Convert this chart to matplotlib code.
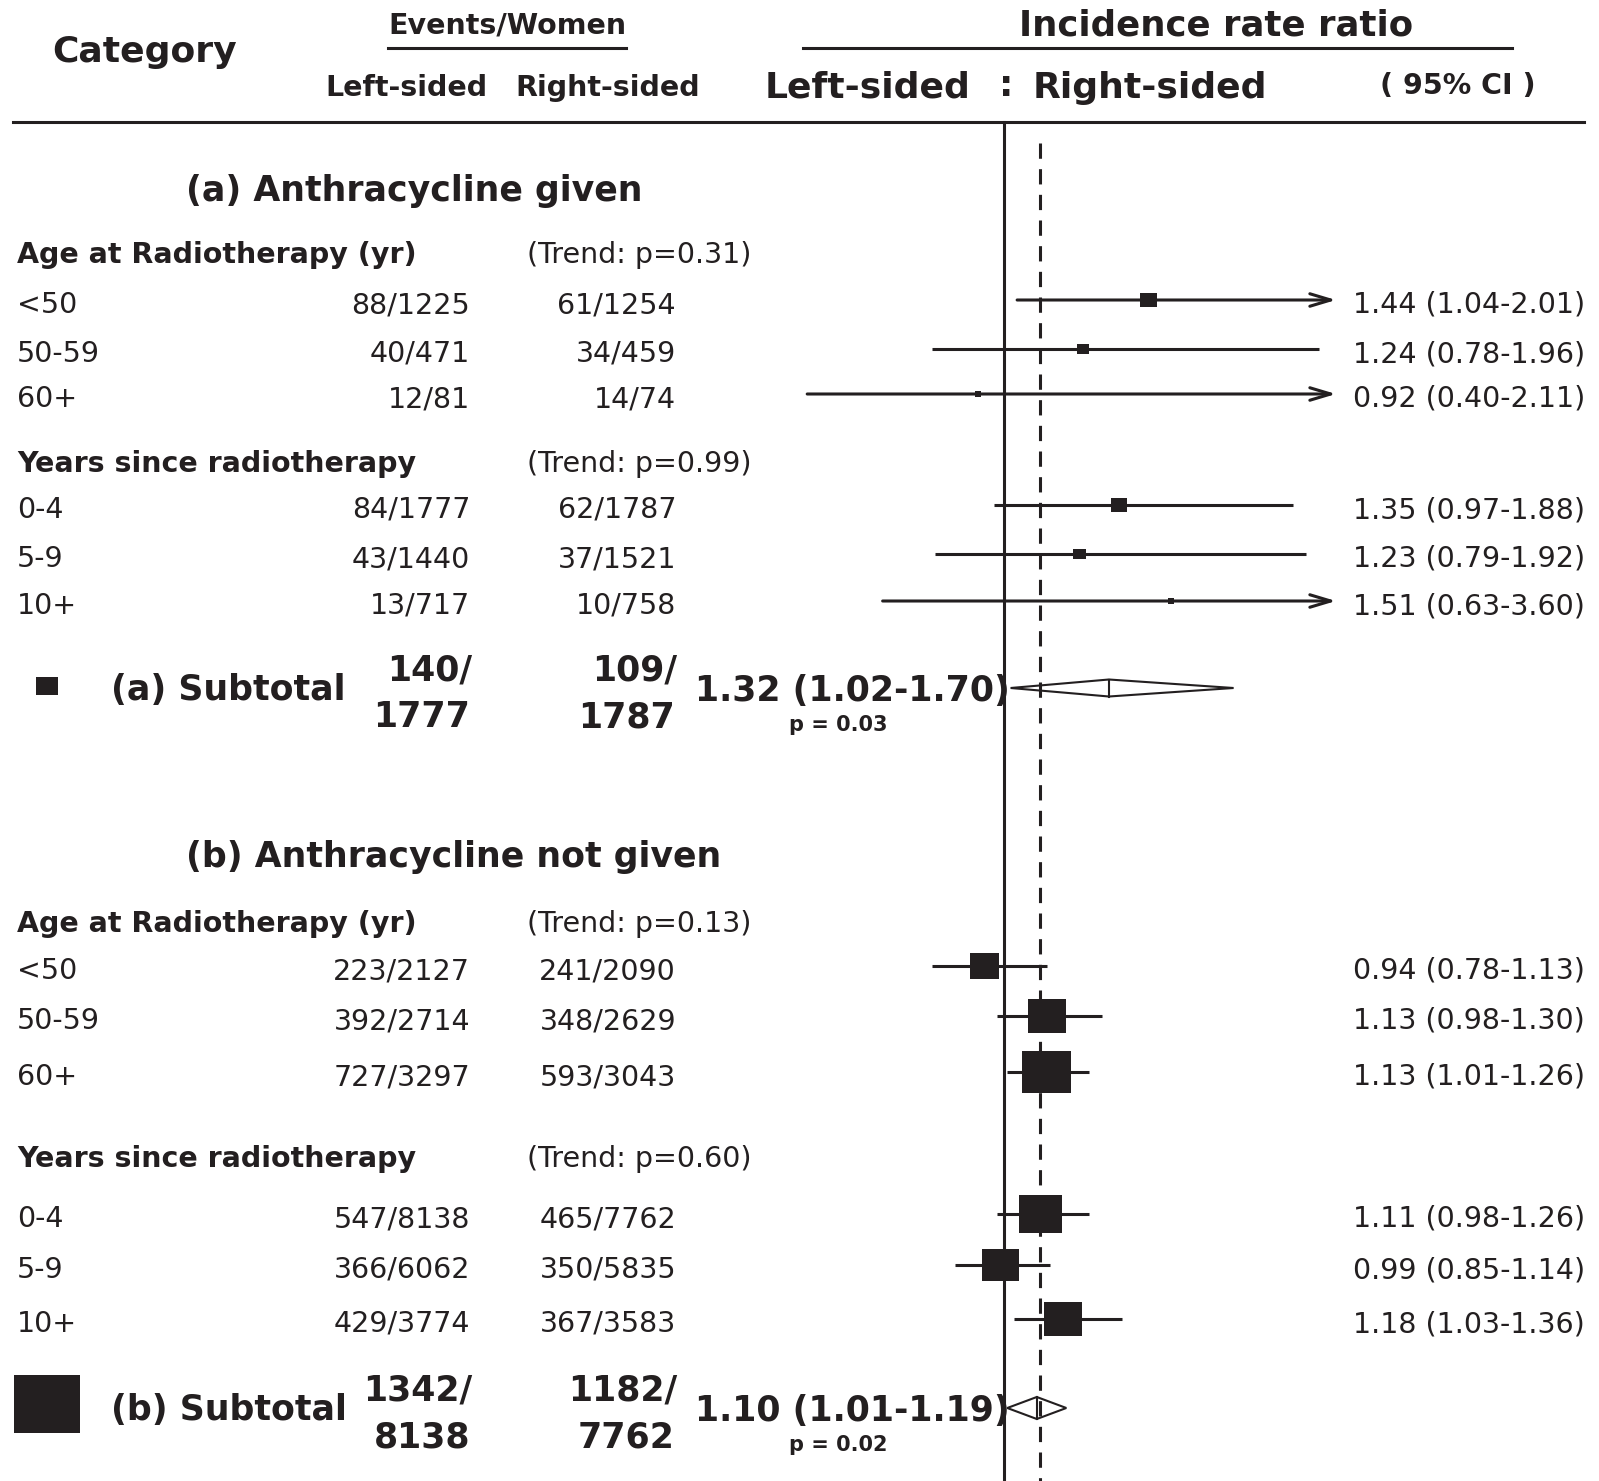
import numpy as np
import matplotlib
matplotlib.use('Agg')
import matplotlib.pyplot as plt
from matplotlib.patches import Rectangle, Polygon

plt.rcParams['font.family'] = ['DejaVu Sans']

# ---------------- data ----------------
age_labels = ['<50', '50-59', '60+']
yrs_labels = ['0-4', '5-9', '10+']

# (a) Anthracycline given
a_age_ev_l = [88, 40, 12]
a_age_n_l = [1225, 471, 81]
a_age_ev_r = [61, 34, 14]
a_age_n_r = [1254, 459, 74]
a_age_irr = [1.44, 1.24, 0.92]
a_age_lo = [1.04, 0.78, 0.40]
a_age_hi = [2.01, 1.96, 2.11]

a_yrs_ev_l = [84, 43, 13]
a_yrs_n_l = [1777, 1440, 717]
a_yrs_ev_r = [62, 37, 10]
a_yrs_n_r = [1787, 1521, 758]
a_yrs_irr = [1.35, 1.23, 1.51]
a_yrs_lo = [0.97, 0.79, 0.63]
a_yrs_hi = [1.88, 1.92, 3.60]

a_trend_p = [0.31, 0.99]
a_sub_left = [140, 1777]
a_sub_right = [109, 1787]
a_sub_est = [1.32, 1.02, 1.70]
a_sub_p = 0.03

# (b) Anthracycline not given
b_age_ev_l = [223, 392, 727]
b_age_n_l = [2127, 2714, 3297]
b_age_ev_r = [241, 348, 593]
b_age_n_r = [2090, 2629, 3043]
b_age_irr = [0.94, 1.13, 1.13]
b_age_lo = [0.78, 0.98, 1.01]
b_age_hi = [1.13, 1.30, 1.26]

b_yrs_ev_l = [547, 366, 429]
b_yrs_n_l = [8138, 6062, 3774]
b_yrs_ev_r = [465, 350, 367]
b_yrs_n_r = [7762, 5835, 3583]
b_yrs_irr = [1.11, 0.99, 1.18]
b_yrs_lo = [0.98, 0.85, 1.03]
b_yrs_hi = [1.26, 1.14, 1.36]

b_trend_p = [0.13, 0.60]
b_sub_left = [1342, 8138]
b_sub_right = [1182, 7762]
b_sub_est = [1.10, 1.01, 1.19]
b_sub_p = 0.02

overall_irr = 1.11
clip_hi = 2.0

# ---------------- layout ----------------
W, H = 1599, 1481
INK = '#231f20'
X0 = 1.0 - 1004 / 328
X1 = 1.0 + (W - 1004) / 328
PX = (X1 - X0) / W


def xd(px):
    return X0 + px * PX


fig = plt.figure(figsize=(W / 100, H / 100), dpi=100)
ax = fig.add_axes([0, 0, 1, 1])
ax.set_xlim(X0, X1)
ax.set_ylim(H, 0)
ax.axis('off')

FS = 20.5
FS_BIG = 25
FS_HEAD = 20.5
LW = 2.2

# header
ax.text(xd(145), 52, 'Category', ha='center', va='center', fontsize=26, fontweight='bold', color=INK)
ax.text(xd(507), 26, 'Events/Women', ha='center', va='center', fontsize=FS_HEAD, fontweight='bold', color=INK)
ax.plot([xd(388), xd(626)], [48, 48], color=INK, lw=LW)
ax.text(xd(406), 88, 'Left-sided', ha='center', va='center', fontsize=FS_HEAD, fontweight='bold', color=INK)
ax.text(xd(608), 88, 'Right-sided', ha='center', va='center', fontsize=FS_HEAD, fontweight='bold', color=INK)
ax.text(xd(1216), 26, 'Incidence rate ratio', ha='center', va='center', fontsize=25.6, fontweight='bold', color=INK)
ax.plot([xd(803), xd(1512)], [48, 48], color=INK, lw=LW)
ax.text(xd(868), 88, 'Left-sided', ha='center', va='center', fontsize=26, fontweight='bold', color=INK)
ax.text(xd(1006), 86, ':', ha='center', va='center', fontsize=26, fontweight='bold', color=INK)
ax.text(xd(1150), 88, 'Right-sided', ha='center', va='center', fontsize=26, fontweight='bold', color=INK)
ax.text(xd(1458), 86, '( 95% CI )', ha='center', va='center', fontsize=FS_HEAD, fontweight='bold', color=INK)
ax.plot([xd(13), xd(1584)], [122, 122], color=INK, lw=LW)

# reference lines
ax.plot([1.0, 1.0], [122, H], color=INK, lw=LW, zorder=2)
ax.plot([overall_irr, overall_irr], [143, H], color=INK, lw=LW, ls=(0, (5, 3.4)), zorder=2)


def draw_row(yt, ym, label, el, nl, er, nr, irr, lo, hi):
    ax.text(xd(17), yt, label, ha='left', va='center', fontsize=FS, color=INK)
    ax.text(xd(470), yt, f'{el}/{nl}', ha='right', va='center', fontsize=FS, color=INK)
    ax.text(xd(676), yt, f'{er}/{nr}', ha='right', va='center', fontsize=FS, color=INK)
    ax.text(xd(1353), yt, f'{irr:.2f} ({lo:.2f}-{hi:.2f})', ha='left', va='center', fontsize=FS, color=INK)
    if hi > clip_hi:
        ax.annotate('', xy=(clip_hi + 4 * PX, ym), xytext=(lo, ym),
                    arrowprops=dict(arrowstyle='->,head_length=1.5,head_width=0.45', lw=LW, color=INK,
                                    shrinkA=0, shrinkB=0, mutation_scale=10), zorder=3)
    else:
        ax.plot([lo, hi], [ym, ym], color=INK, lw=LW, solid_capstyle='butt', zorder=3)
    s = 1.0 / np.log(hi / lo)
    w = 10.8 * s * PX
    h = 9.5 * s
    ax.add_patch(Rectangle((irr - w / 2, ym - h / 2), w, h, facecolor=INK, edgecolor='none', zorder=5))


def draw_group(title, y_title, header_y, trends, rows_y, blocks, sub, sub_y, hh, sq_center):
    ax.text(xd(186), y_title, title, ha='left', va='center', fontsize=FS_BIG, fontweight='bold', color=INK)
    names = ['Age at Radiotherapy (yr)', 'Years since radiotherapy']
    for k in range(2):
        ax.text(xd(17), header_y[k], names[k], ha='left', va='center', fontsize=FS, fontweight='bold', color=INK)
        ax.text(xd(527), header_y[k], f'(Trend: p={trends[k]:.2f})', ha='left', va='center', fontsize=FS, color=INK)
        labels, evl, nl, evr, nr, irr, lo, hi = blocks[k]
        for i in range(3):
            yt = rows_y[k][i]
            draw_row(yt, yt - 5, labels[i], evl[i], nl[i], evr[i], nr[i], irr[i], lo[i], hi[i])
    (left, right, est, p, tag) = sub
    ax.text(xd(111), sub_y, f'({tag}) Subtotal', ha='left', va='center', fontsize=FS_BIG, fontweight='bold', color=INK)
    ax.text(xd(472), sub_y - 19, f'{left[0]}/', ha='right', va='center', fontsize=FS_BIG, fontweight='bold', color=INK)
    ax.text(xd(470), sub_y + 27, f'{left[1]}', ha='right', va='center', fontsize=FS_BIG, fontweight='bold', color=INK)
    ax.text(xd(677), sub_y - 19, f'{right[0]}/', ha='right', va='center', fontsize=FS_BIG, fontweight='bold', color=INK)
    ax.text(xd(675), sub_y + 27, f'{right[1]}', ha='right', va='center', fontsize=FS_BIG, fontweight='bold', color=INK)
    ax.text(xd(695), sub_y + 1, f'{est[0]:.2f} ({est[1]:.2f}-{est[2]:.2f})', ha='left', va='center',
            fontsize=FS_BIG, fontweight='bold', color=INK)
    ax.text(xd(838), sub_y + 35, f'p = {p:.2f}', ha='center', va='center', fontsize=15, fontweight='bold', color=INK)
    yd = sub_y - 2
    e, lo, hi = est
    ax.add_patch(Polygon([(lo, yd), (e, yd - hh), (hi, yd), (e, yd + hh)], closed=True,
                         facecolor='none', edgecolor=INK, lw=1.5, zorder=5))
    ax.plot([e, e], [yd - hh, yd + hh], color=INK, lw=1.5, zorder=5)
    # legend square for the subtotal
    s = 1.0 / np.log(hi / lo)
    w = 10.8 * s * PX
    h = 9.5 * s
    ax.add_patch(Rectangle((xd(sq_center[0]) - w / 2, sq_center[1] - h / 2), w, h,
                           facecolor=INK, edgecolor='none', zorder=5))


draw_group('(a) Anthracycline given', 191, [255, 464], a_trend_p,
           [[305, 354, 399], [510, 559, 606]],
           [(age_labels, a_age_ev_l, a_age_n_l, a_age_ev_r, a_age_n_r, a_age_irr, a_age_lo, a_age_hi),
            (yrs_labels, a_yrs_ev_l, a_yrs_n_l, a_yrs_ev_r, a_yrs_n_r, a_yrs_irr, a_yrs_lo, a_yrs_hi)],
           (a_sub_left, a_sub_right, a_sub_est, a_sub_p, 'a'), 690, 8.5, (47, 686))

draw_group('(b) Anthracycline not given', 857, [924, 1159], b_trend_p,
           [[971, 1021, 1077], [1219, 1270, 1324]],
           [(age_labels, b_age_ev_l, b_age_n_l, b_age_ev_r, b_age_n_r, b_age_irr, b_age_lo, b_age_hi),
            (yrs_labels, b_yrs_ev_l, b_yrs_n_l, b_yrs_ev_r, b_yrs_n_r, b_yrs_irr, b_yrs_lo, b_yrs_hi)],
           (b_sub_left, b_sub_right, b_sub_est, b_sub_p, 'b'), 1410, 11, (47, 1404))

fig.savefig('out.png', dpi=100)
